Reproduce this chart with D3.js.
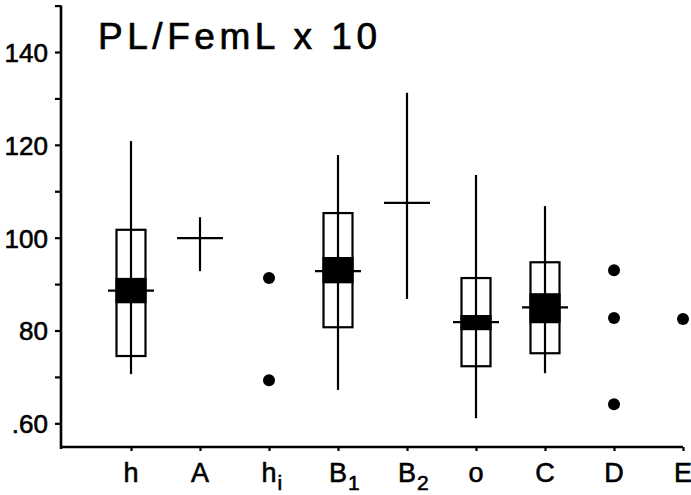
<!DOCTYPE html>
<html>
<head>
<meta charset="utf-8">
<script src="https://cdn.jsdelivr.net/npm/d3@7"></script>
<style>
  html, body { margin: 0; padding: 0; background: #fff; }
  svg { display: block; font-family: "Liberation Sans", Arial, sans-serif; }
</style>
</head>
<body>
<svg id="chart" width="691" height="495"></svg>
<script>
// ---- data ----
const categories = ["h", "A", "hi", "B1", "B2", "o", "C", "D", "E"];
const labelMain  = ["h", "A", "h", "B", "B", "o", "C", "D", "E"];
const labelSub   = ["", "", "i", "1", "2", "", "", "", ""];

const yTickValues = [60, 70, 80, 90, 100, 110, 120, 130, 140, 150];
const yTickLabels = [".60", "", "80", "", "100", "", "120", "", "140", ""];

// box groups
const boxCats     = ["h", "B1", "o", "C"];
const whiskerLow  = [70.6, 67.2, 61.1, 70.8];
const whiskerHigh = [120.8, 117.8, 113.5, 106.8];
const boxLow      = [74.5, 80.7, 72.3, 75.1];
const boxHigh     = [101.7, 105.3, 91.3, 94.7];
const meanCILow   = [86.1, 90.4, 80.3, 81.8];
const meanCIHigh  = [91.1, 95.6, 83.1, 87.8];
const meanValue   = [88.6, 92.8, 81.8, 85.0];

// cross groups (range + mean only)
const crossCats  = ["A", "B2"];
const crossMean  = [99.9, 107.5];
const crossLow   = [92.8, 86.8];
const crossHigh  = [104.4, 131.2];

// single observations
const dotCats   = ["hi", "hi", "D", "D", "D", "E"];
const dotValues = [91.3, 69.3, 93.0, 82.7, 64.1, 82.5];

const title = "PL/FemL x 10";

// ---- layout ----
const svg = d3.select("#chart");
const axisX = 61, axisY = 447;
const x = d3.scalePoint().domain(categories).range([131, 683]);
const y = d3.scaleLinear().domain([54.9, 150]).range([axisY, 5.6]);

const boxHalf = 14.5, meanHalf = 23, sw = 2.2;

// title
svg.append("text")
  .attr("x", 98).attr("y", 49)
  .style("font-size", "37px")
  .attr("textLength", 279).attr("lengthAdjust", "spacing")
  .attr("fill", "#000").attr("stroke", "#000").attr("stroke-width", 0.7)
  .text(title);

// y axis
const yAxis = svg.append("g")
  .attr("transform", `translate(${axisX},0)`)
  .call(d3.axisLeft(y).tickValues(yTickValues)
    .tickFormat((d, i) => yTickLabels[i]).tickSize(6).tickSizeOuter(0).tickPadding(7));
yAxis.select(".domain").remove();
yAxis.attr("font-size", null).attr("font-family", null);
yAxis.selectAll(".tick line").attr("stroke", "#000").attr("stroke-width", sw);
yAxis.selectAll(".tick text")
  .style("font-size", "26px").style("font-family", "'Liberation Sans', Arial, sans-serif")
  .attr("dy", "0.36em")
  .attr("fill", "#000").attr("stroke", "#000").attr("stroke-width", 0.6);
svg.append("line")
  .attr("x1", axisX).attr("x2", axisX)
  .attr("y1", y(150)).attr("y2", axisY + 2)
  .attr("stroke", "#000").attr("stroke-width", 2.6);

// x axis
const xAxis = svg.append("g")
  .attr("transform", `translate(0,${axisY})`)
  .call(d3.axisBottom(x).tickSize(4).tickSizeOuter(0).tickFormat(""));
xAxis.select(".domain").remove();
xAxis.selectAll(".tick line").attr("stroke", "#000").attr("stroke-width", sw);
svg.append("line")
  .attr("x1", axisX).attr("x2", x.range()[1])
  .attr("y1", axisY).attr("y2", axisY)
  .attr("stroke", "#000").attr("stroke-width", 2.6);

// x labels with subscripts
const lab = svg.append("g").style("font-size", "27px")
  .attr("fill", "#000").attr("stroke", "#000").attr("stroke-width", 0.6);
categories.forEach((c, i) => {
  const t = lab.append("text")
    .attr("x", x(c)).attr("y", 482)
    .attr("text-anchor", labelSub[i] ? "start" : "middle");
  t.append("tspan").text(labelMain[i]);
  if (labelSub[i]) {
    t.append("tspan").attr("dy", 8).attr("dx", 1).style("font-size", "21px").text(labelSub[i]);
    const mw = t.select("tspan").node().getComputedTextLength();
    t.attr("x", x(c) - mw / 2);
  }
});

// boxes
const g = svg.append("g").attr("stroke", "#000").attr("stroke-width", sw);
boxCats.forEach((c, i) => {
  const cx = x(c);
  g.append("line").attr("x1", cx).attr("x2", cx)
    .attr("y1", y(whiskerLow[i])).attr("y2", y(whiskerHigh[i]));
  g.append("rect")
    .attr("x", cx - boxHalf).attr("width", boxHalf * 2)
    .attr("y", y(boxHigh[i])).attr("height", y(boxLow[i]) - y(boxHigh[i]))
    .attr("fill", "none");
  g.append("rect")
    .attr("x", cx - boxHalf).attr("width", boxHalf * 2)
    .attr("y", y(meanCIHigh[i])).attr("height", y(meanCILow[i]) - y(meanCIHigh[i]))
    .attr("fill", "#000");
  g.append("line").attr("x1", cx - meanHalf).attr("x2", cx + meanHalf)
    .attr("y1", y(meanValue[i])).attr("y2", y(meanValue[i]));
});

// crosses
crossCats.forEach((c, i) => {
  const cx = x(c);
  g.append("line").attr("x1", cx).attr("x2", cx)
    .attr("y1", y(crossLow[i])).attr("y2", y(crossHigh[i]));
  g.append("line").attr("x1", cx - meanHalf).attr("x2", cx + meanHalf)
    .attr("y1", y(crossMean[i])).attr("y2", y(crossMean[i]));
});

// dots
svg.append("g").selectAll("circle")
  .data(dotValues)
  .join("circle")
  .attr("cx", (d, i) => x(dotCats[i]))
  .attr("cy", d => y(d))
  .attr("r", 6)
  .attr("fill", "#000");
</script>
</body>
</html>
